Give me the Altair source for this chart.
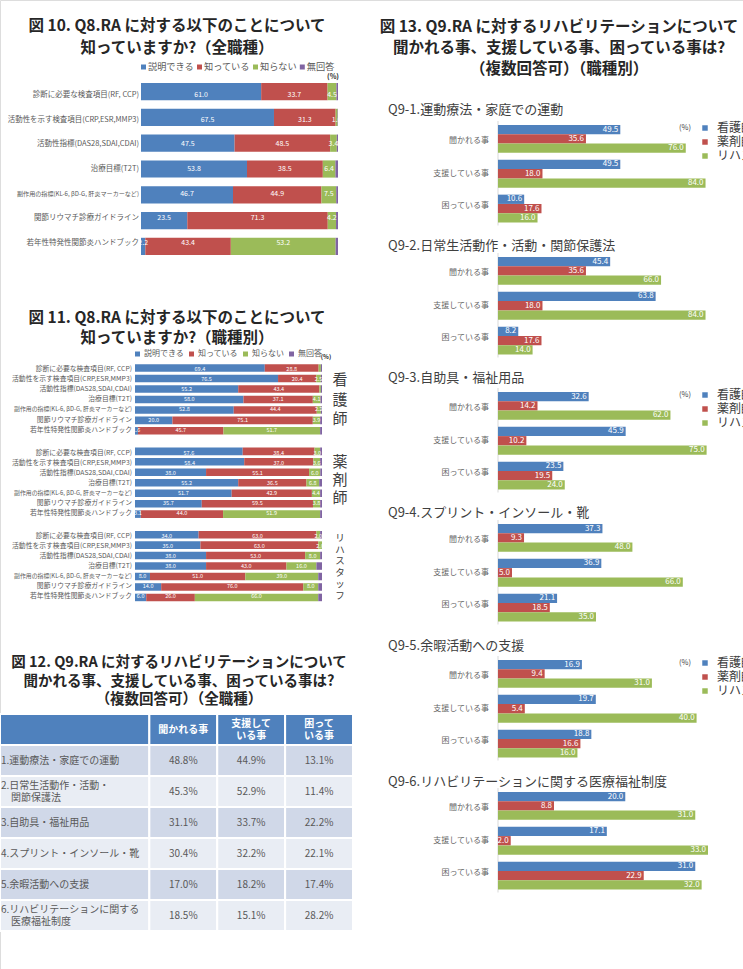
import altair as alt
import pandas as pd

W, H = 743, 969
FONT = "Noto Sans CJK JP"
BLUE, RED, GREEN, PURPLE = "#4F81BD", "#C0504D", "#9BBB59", "#8064A2"
DARK = "#262626"
MID = "#595959"
INDENT = "\u200b\u3000"

# ---------------- data ----------------
q8_items = [
    "診断に必要な検査項目(RF, CCP)",
    "活動性を示す検査項目(CRP,ESR,MMP3)",
    "活動性指標(DAS28,SDAI,CDAI)",
    "治療目標(T2T)",
    "副作用の指標(KL-6, βD-G, 肝炎マーカーなど)",
    "関節リウマチ診療ガイドライン",
    "若年性特発性関節炎ハンドブック",
]
q8_answers = ["説明できる", "知っている", "知らない", "無回答"]

# Fig 10 (all staff)
fig10_explain = [61.0, 67.5, 47.5, 53.8, 46.7, 23.5, 2.2]
fig10_know = [33.7, 31.3, 48.5, 38.5, 44.9, 71.3, 43.4]
fig10_dont = [4.5, 1.0, 3.4, 6.4, 7.5, 4.2, 53.2]
fig10_noans = [0.8, 0.2, 0.6, 1.3, 0.9, 1.0, 1.2]

# Fig 11 (by profession)
nurse_explain = [69.4, 76.5, 55.2, 58.0, 52.8, 20.0, 1.6]
nurse_know = [28.8, 20.4, 43.4, 37.1, 44.4, 75.1, 45.7]
nurse_dont = [1.2, 2.5, 0.8, 4.1, 2.2, 3.9, 51.7]
nurse_noans = [0.6, 0.6, 0.6, 0.8, 0.6, 1.0, 1.0]

pharm_explain = [57.6, 58.4, 38.0, 55.2, 51.7, 35.7, 3.1]
pharm_know = [38.4, 37.0, 55.1, 36.5, 42.9, 59.5, 44.0]
pharm_dont = [3.0, 3.6, 6.0, 6.8, 4.4, 3.8, 51.9]
pharm_noans = [1.0, 1.0, 0.9, 1.5, 1.0, 1.0, 1.0]

rehab_explain = [34.0, 35.0, 38.0, 38.0, 8.0, 14.0, 6.0]
rehab_know = [63.0, 63.0, 53.0, 43.0, 51.0, 76.0, 26.0]
rehab_dont = [2.0, 2.0, 8.0, 16.0, 39.0, 8.0, 66.0]
rehab_noans = [1.0, 0.0, 1.0, 3.0, 2.0, 2.0, 2.0]

# Fig 12 (table, all staff)
table_items = [
    "1.運動療法・家庭での運動",
    "2.日常生活動作・活動・\n" + INDENT + "関節保護法",
    "3.自助具・福祉用品",
    "4.スプリント・インソール・靴",
    "5.余暇活動への支援",
    "6.リハビリテーションに関する\n" + INDENT + "医療福祉制度",
]
table_header = ["聞かれる事", "支援して\nいる事", "困って\nいる事"]
asked_all = [48.8, 45.3, 31.1, 30.4, 17.0, 18.5]
support_all = [44.9, 52.9, 33.7, 32.2, 18.2, 15.1]
trouble_all = [13.1, 11.4, 22.2, 22.1, 17.4, 28.2]

# Fig 13 (by profession)
q9_titles = [
    "Q9-1.運動療法・家庭での運動",
    "Q9-2.日常生活動作・活動・関節保護法",
    "Q9-3.自助具・福祉用品",
    "Q9-4.スプリント・インソール・靴",
    "Q9-5.余暇活動への支援",
    "Q9-6.リハビリテーションに関する医療福祉制度",
]
q9_cats = ["聞かれる事", "支援している事", "困っている事"]
staff = ["看護師", "薬剤師", "リハスタッフ"]
q9_nurse = [[49.5, 49.5, 10.6], [45.4, 63.8, 8.2], [32.6, 45.9, 23.5],
            [37.3, 36.9, 21.1], [16.9, 19.7, 18.8], [20.0, 17.1, 31.0]]
q9_pharm = [[35.6, 18.0, 17.6], [35.6, 18.0, 17.6], [14.2, 10.2, 19.5],
            [9.3, 5.0, 18.5], [9.4, 5.4, 16.6], [8.8, 2.0, 22.9]]
q9_rehab = [[76.0, 84.0, 16.0], [66.0, 84.0, 14.0], [62.0, 75.0, 24.0],
            [48.0, 66.0, 35.0], [31.0, 40.0, 16.0], [31.0, 33.0, 32.0]]
q9_axis_max = [85, 85, 75.5, 75, 42.3, 33]

BLANK = pd.DataFrame({"_": [0]})
layers = []


def est_width(s, fs):
    return sum(fs if ord(ch) > 0x2000 else fs * 0.55 for ch in s)


def txt(lines, x, y, size, weight="normal", align="center", color=DARK, lh=None):
    # y is the centre of the first line
    return alt.Chart(BLANK).mark_text(
        font=FONT, fontSize=size, fontWeight=weight, align=align,
        baseline="middle", color=color, lineHeight=lh if lh else size * 1.3,
    ).encode(x=alt.value(x), y=alt.value(y), text=alt.value(lines))


def legend_row(labels, colors, x0, y, fs, sym, gap_sym, gap_item):
    # horizontal legend laid out from the label lengths
    rows, x = [], x0
    for lab in labels:
        rows.append({"lab": lab, "sx": x + sym / 2, "tx": x + sym + gap_sym})
        x += sym + gap_sym + est_width(lab, fs) + gap_item
    df = pd.DataFrame(rows)
    cs = alt.Scale(domain=labels, range=colors)
    sq = alt.Chart(df).mark_square(size=sym * sym, opacity=1).encode(
        x=alt.X("sx:Q", scale=None, axis=None), y=alt.value(y),
        color=alt.Color("lab:N", scale=cs, legend=None))
    tt = alt.Chart(df).mark_text(font=FONT, fontSize=fs, color=MID, align="left",
                                 baseline="middle").encode(
        x=alt.X("tx:Q", scale=None, axis=None), y=alt.value(y), text="lab:N")
    return [sq, tt]


def stacked(series_lists, x_range, y_range, pad, label_x, label_size, label_room,
            value_size, min_label):
    rows = []
    for i, it in enumerate(q8_items):
        for k, (ans, vals) in enumerate(zip(q8_answers, series_lists)):
            rows.append({"item": it, "answer": ans, "k": k, "v": vals[i]})
    df = pd.DataFrame(rows)
    xs = alt.Scale(domain=[0, 100], range=x_range, nice=False)
    ys = alt.Scale(domain=q8_items, range=y_range, paddingInner=pad, paddingOuter=0)
    cs = alt.Scale(domain=q8_answers, range=[BLUE, RED, GREEN, PURPLE])
    base = alt.Chart(df).transform_stack(
        stack="v", groupby=["item"], as_=["x0", "x1"],
        sort=[alt.SortField("k", order="ascending")])
    bars = base.mark_bar().encode(
        x=alt.X("x0:Q", scale=xs, axis=None),
        x2="x1:Q",
        y=alt.Y("item:N", scale=ys, axis=None),
        color=alt.Color("answer:N", scale=cs, legend=None),
    )
    vals = base.transform_calculate(mid="(datum.x0 + datum.x1) / 2").transform_filter(
        f"datum.v >= {min_label} && datum.k < 3"
    ).mark_text(font=FONT, fontSize=value_size, color="white").encode(
        x=alt.X("mid:Q", scale=xs, axis=None),
        y=alt.Y("item:N", scale=ys, axis=None),
        text=alt.Text("v:Q", format=".1f"),
    )
    lab_df = pd.DataFrame({
        "item": q8_items,
        "fs": [min(label_size, label_size * label_room / est_width(s, label_size)) for s in q8_items],
    })
    labels = alt.Chart(lab_df).mark_text(font=FONT, color=MID, align="right").encode(
        x=alt.value(label_x),
        y=alt.Y("item:N", scale=ys, axis=None),
        text="item:N",
        size=alt.Size("fs:Q", scale=None, legend=None),
    )
    return [bars, vals, labels]


def q9_panel(idx, top, show_legend):
    rows = []
    for s, series in zip(staff, [q9_nurse, q9_pharm, q9_rehab]):
        for c, v in zip(q9_cats, series[idx]):
            rows.append({"cat": c, "staff": s, "v": v})
    df = pd.DataFrame(rows)
    span, pi = 97.5, 0.2
    step = span / (3 - pi)
    bw = step * (1 - pi)
    xs = alt.Scale(domain=[0, q9_axis_max[idx]], range=[498, 708], nice=False)
    ys = alt.Scale(domain=q9_cats, range=[top, top + span], paddingInner=pi, paddingOuter=0)
    offs = alt.Scale(domain=staff, range=[0, bw], paddingInner=0, paddingOuter=0)
    cs = alt.Scale(domain=staff, range=[BLUE, RED, GREEN])
    if show_legend:
        legend = alt.Legend(
            orient="none", legendX=699, legendY=top - 3, title=None,
            symbolType="square", symbolSize=30, labelFontSize=12, labelFont=FONT,
            labelColor="#404040", rowPadding=2, padding=0, labelOffset=6,
            symbolStrokeWidth=0,
        )
    else:
        legend = None
    base = alt.Chart(df)
    axis_line = alt.Chart(BLANK).mark_rule(color="#D9D9D9", strokeWidth=1).encode(
        x=alt.XDatum(0, scale=xs, axis=None), y=alt.value(top - 4), y2=alt.value(top + span + 3)
    )
    bars = base.mark_bar().encode(
        x=alt.X("v:Q", scale=xs, axis=None),
        y=alt.Y("cat:N", scale=ys, axis=None),
        yOffset=alt.YOffset("staff:N", scale=offs),
        color=alt.Color("staff:N", scale=cs, legend=legend),
    )
    vals = base.mark_text(font=FONT, fontSize=8, color="white", align="right", dx=-2).encode(
        x=alt.X("v:Q", scale=xs, axis=None),
        y=alt.Y("cat:N", scale=ys, axis=None),
        yOffset=alt.YOffset("staff:N", scale=offs),
        text=alt.Text("v:Q", format=".1f"),
    )
    cat_labels = alt.Chart(pd.DataFrame({"cat": q9_cats})).mark_text(
        font=FONT, fontSize=8, color="#666666", align="right"
    ).encode(
        x=alt.value(489),
        y=alt.Y("cat:N", scale=ys, axis=None),
        text="cat:N",
    )
    return [axis_line, bars, vals, cat_labels]


answer_colors = [BLUE, RED, GREEN, PURPLE]

# ---------- Fig 10 ----------
layers.append(txt(["図 10.  Q8.RA に対する以下のことについて", "知っていますか?（全職種）"],
                  177, 26, 15.5, weight="bold", lh=21.5))
layers += legend_row(q8_answers, answer_colors, 141, 67, 9.2, 5, 2, 3)
layers += stacked([fig10_explain, fig10_know, fig10_dont, fig10_noans],
                  [141, 338], [83, 255], 0.333, 139, 7.5, 132, 7, 1.0)
layers.append(txt("(%)", 333, 77, 7, weight="bold"))

# ---------- Fig 11 ----------
layers.append(txt(["図 11.  Q8.RA に対する以下のことについて", "知っていますか?（職種別）"],
                  177, 318, 15.5, weight="bold", lh=19.5))
layers += legend_row(q8_answers, answer_colors, 135, 354, 8, 5, 4, 5)
group_series = [
    [nurse_explain, nurse_know, nurse_dont, nurse_noans],
    [pharm_explain, pharm_know, pharm_dont, pharm_noans],
    [rehab_explain, rehab_know, rehab_dont, rehab_noans],
]
group_tops = [364.3, 447.6, 530.9]
for series, gt in zip(group_series, group_tops):
    layers += stacked(series, [135, 322], [gt, gt + 70.3], 0.28, 132, 6.8, 128, 5.5, 1.5)
layers.append(txt("(%)", 326, 357, 6, weight="bold"))
layers.append(txt(["看", "護", "師"], 340, 380, 15, color="#404040", lh=19.5))
layers.append(txt(["薬", "剤", "師"], 340, 462, 15, color="#404040", lh=18))
layers.append(txt(["リ", "ハ", "ス", "タ", "ッ", "フ"], 340, 538, 9.5, color="#404040", lh=11.5))

# ---------- Fig 12 (table) ----------
layers.append(txt(["図 12.  Q9.RA に対するリハビリテーションについて",
                   "聞かれる事、支援している事、困っている事は?",
                   "（複数回答可）（全職種）"],
                  179, 663, 14.5, weight="bold", lh=18.7))
col_edges = [0, 2.2, 3.2, 4.2, 5.2]
row_keys = ["h"] + [str(i) for i in range(1, 7)]
value_cols = [asked_all, support_all, trouble_all]
cells = []
for r, key in enumerate(row_keys):
    for c in range(4):
        if r == 0:
            t = "" if c == 0 else table_header[c - 1]
            shade = "head"
        else:
            t = table_items[r - 1] if c == 0 else f"{value_cols[c - 1][r - 1]:.1f}%"
            shade = "odd" if r % 2 == 1 else "even"
        cells.append({"row": key, "col": c, "c0": col_edges[c], "c1": col_edges[c + 1],
                      "cm": (col_edges[c] + col_edges[c + 1]) / 2, "t": t, "shade": shade,
                      "multi": "\n" in t})
cells_df = pd.DataFrame(cells)
tx = alt.Scale(domain=[0, col_edges[-1]], range=[0, 353], nice=False)
ty = alt.Scale(domain=row_keys, range=[714, 931], paddingInner=0, paddingOuter=0)
tbase = alt.Chart(cells_df)
layers.append(tbase.mark_rect(stroke="white", strokeWidth=2).encode(
    x=alt.X("c0:Q", scale=tx, axis=None), x2="c1:Q",
    y=alt.Y("row:N", scale=ty, axis=None),
    color=alt.Color("shade:N", scale=alt.Scale(domain=["head", "odd", "even"],
                                               range=[BLUE, "#D0D8E8", "#E9EDF4"]), legend=None),
))
for multi, shift in [(False, 0), (True, -6)]:
    cond = "datum.multi" if multi else "!datum.multi"
    layers.append(tbase.transform_filter(f"datum.row == 'h' && datum.col > 0 && {cond}").mark_text(
        font=FONT, fontSize=10, fontWeight="bold", color="white", lineBreak="\n",
        lineHeight=12, dy=shift
    ).encode(x=alt.X("cm:Q", scale=tx, axis=None), y=alt.Y("row:N", scale=ty, axis=None), text="t:N"))
    layers.append(tbase.transform_filter(f"datum.row != 'h' && datum.col == 0 && {cond}").mark_text(
        font=FONT, fontSize=10, color=MID, align="left", lineBreak="\n", lineHeight=12, dy=shift
    ).encode(x=alt.value(1), y=alt.Y("row:N", scale=ty, axis=None), text="t:N"))
layers.append(tbase.transform_filter("datum.row != 'h' && datum.col > 0").mark_text(
    font=FONT, fontSize=10, color=MID
).encode(x=alt.X("cm:Q", scale=tx, axis=None), y=alt.Y("row:N", scale=ty, axis=None), text="t:N"))

# ---------- Fig 13 ----------
layers.append(txt(["図 13.  Q9.RA に対するリハビリテーションについて",
                   "聞かれる事、支援している事、困っている事は?",
                   "（複数回答可）（職種別）"],
                  559, 26.5, 15.5, weight="bold", lh=21))
bar_tops = [125, 257, 392, 524, 660, 792]
sub_y = [110, 246, 378, 513, 646, 782]
for i in range(6):
    layers.append(txt(q9_titles[i], 388, sub_y[i], 13, align="left", color="#404040"))
    layers += q9_panel(i, bar_tops[i], i % 2 == 0)
    if i % 2 == 0:
        layers.append(txt("(%)", 685, bar_tops[i] + 3, 7.5, color="#404040"))

chart = alt.layer(*layers).resolve_scale(
    x="independent", y="independent", color="independent"
).properties(
    width=W, height=H, autosize=alt.AutoSizeParams(type="none"), padding=0
).configure_view(stroke=None).configure(background="white")

chart.save("out.html", embed_options={"renderer": "svg", "actions": False})
